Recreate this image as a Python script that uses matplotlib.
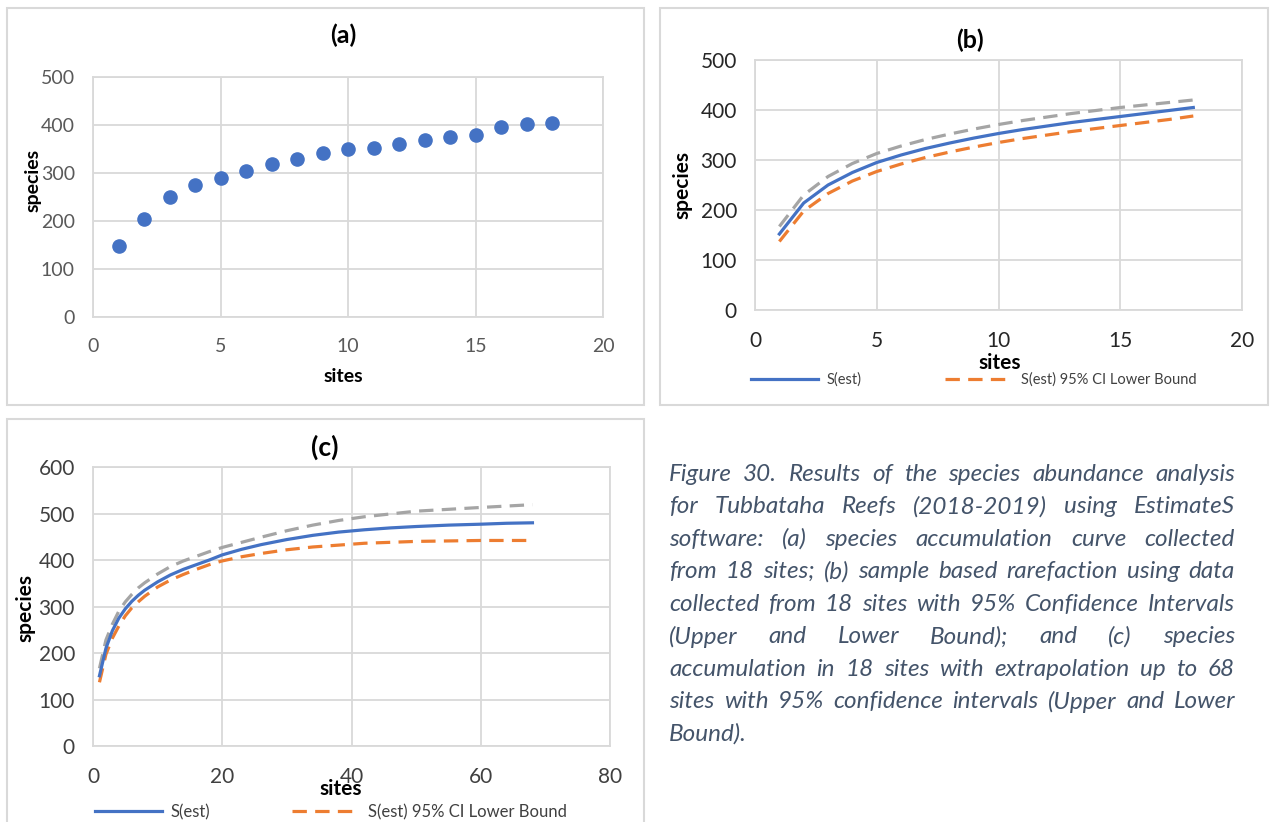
import numpy as np
import matplotlib.pyplot as plt
from matplotlib.patches import Rectangle

plt.rcParams['font.family'] = ['Lato', 'DejaVu Sans']

# ---- data ----
# (a) observed species accumulation
sites_a = list(range(1, 19))
species_a = [147, 204, 250, 274, 290, 304, 318, 330, 341, 350, 353, 360, 368, 375, 379, 395, 403, 405]

# (b) rarefaction, 18 sites
sites_b = list(range(1, 19))
sest_b = [152, 214, 250, 275, 295, 310, 323, 334, 344, 353, 361, 368, 375, 381, 387, 393, 399, 405]
upper_b = [167, 230, 267, 293, 313, 328, 341, 352, 362, 371, 379, 386, 393, 399, 405, 410, 415, 420]
lower_b = [137, 198, 233, 258, 277, 292, 305, 316, 326, 335, 343, 350, 357, 363, 369, 375, 381, 388]

# (c) extrapolation up to 68 sites
sites_c = [1, 2, 3, 4, 5, 6, 7, 8, 10, 12, 14, 16, 18, 20, 23, 26, 30, 34, 38, 42, 46, 50, 55, 60, 64, 68]
sest_c = [151, 210, 248, 275, 295, 311, 324, 335, 353, 368, 380, 390, 400, 411, 423, 433, 444, 453,
          460, 465, 469, 472, 475, 477, 479, 480]
upper_c = [167, 228, 262, 290, 310, 326, 340, 351, 370, 386, 398, 408, 418, 427, 438, 449, 463, 475,
           485, 493, 499, 505, 509, 513, 516, 519]
lower_c = [137, 197, 232, 258, 280, 297, 310, 322, 342, 357, 369, 380, 390, 398, 407, 414, 422, 428,
           432, 436, 438, 440, 441, 442, 442, 442]

caption = ["Figure 30. Results of the species abundance analysis",
           "for Tubbataha Reefs (2018-2019) using EstimateS",
           "software: (a) species accumulation curve collected",
           "from 18 sites; (b) sample based rarefaction using data",
           "collected from 18 sites with 95% Confidence Intervals",
           "(Upper and Lower Bound); and (c) species",
           "accumulation in 18 sites with extrapolation up to 68",
           "sites with 95% confidence intervals (Upper and Lower",
           "Bound)."]

blue = '#4472C4'
orange = '#ED7D31'
gray = '#A5A5A5'
grid = '#D9D9D9'
dash = (0, (4.5, 2.6))
W, H = 1277, 822

fig = plt.figure(figsize=(W / 100, H / 100), dpi=100)


def px_axes(x0, x1, y0, y1):
    # pixel box -> figure fraction axes
    return fig.add_axes([x0 / W, 1 - y1 / H, (x1 - x0) / W, (y1 - y0) / H])


def frame(x0, x1, y0, y1):
    fig.patches.append(Rectangle((x0 / W, 1 - y1 / H), (x1 - x0) / W, (y1 - y0) / H,
                                 transform=fig.transFigure, fill=False,
                                 edgecolor=grid, linewidth=1.5, zorder=0))


def style(ax, xmax, ymax, step_x, tick_color, size):
    ax.set_xlim(0, xmax)
    ax.set_ylim(0, ymax)
    ax.set_xticks(np.arange(0, xmax + 1, step_x))
    ax.set_yticks(np.arange(0, ymax + 1, 100))
    ax.grid(True, color=grid, linewidth=1.3)
    ax.set_axisbelow(True)
    for s in ax.spines.values():
        s.set_color(grid)
        s.set_linewidth(1.3)
    ax.tick_params(length=0, labelsize=size, colors=tick_color)
    ax.tick_params(axis='x', pad=15)
    ax.tick_params(axis='y', pad=13)


def labels(ax, size, xpos, ypos):
    ax.set_xlabel('sites', fontsize=size, fontweight='bold')
    ax.set_ylabel('species', fontsize=size, fontweight='bold')
    ax.xaxis.label.set_va('center')
    ax.yaxis.label.set_va('center')
    ax.xaxis.set_label_coords(*xpos)
    ax.yaxis.set_label_coords(*ypos)


frame(7, 644, 8, 405)
frame(660, 1268, 8, 405)
frame(7, 644, 419, 840)

# ---- (a) ----
ax1 = px_axes(93, 603, 77, 317)
ax1.scatter(sites_a, species_a, s=90, color=blue, zorder=3, clip_on=False)
style(ax1, 20, 500, 5, '#595959', 14)
labels(ax1, 14, (0.49, -0.246), (-0.118, 0.571))
fig.text(343 / W, 1 - 35 / H, '(a)', fontsize=18, fontweight='bold', ha='center', va='center')

# ---- (b) ----
ax2 = px_axes(755, 1242, 60, 310)
l1, = ax2.plot(sites_b, sest_b, color=blue, lw=2.3, label='S(est)', zorder=3)
l2, = ax2.plot(sites_b, lower_b, color=orange, lw=2.3, ls=dash,
               label='S(est) 95% CI Lower Bound', zorder=2)
ax2.plot(sites_b, upper_b, color=gray, lw=2.3, ls=dash, zorder=2)
style(ax2, 20, 500, 5, '#262626', 15)
labels(ax2, 15, (0.503, -0.212), (-0.150, 0.5))
fig.text(970 / W, 1 - 40 / H, '(b)', fontsize=18, fontweight='bold', ha='center', va='center')
fig.legend(handles=[l1, l2], loc='center left', bbox_to_anchor=(738 / W, 1 - 380 / H),
           ncol=2, frameon=False, fontsize=10.5, handlelength=4.6, columnspacing=5.7,
           handletextpad=0.6, labelcolor='#404040')

# ---- (c) ----
ax3 = px_axes(93, 610, 467, 746)
l3, = ax3.plot(sites_c, sest_c, color=blue, lw=2.3, label='S(est)', zorder=3)
l4, = ax3.plot(sites_c, lower_c, color=orange, lw=2.3, ls=dash,
               label='S(est) 95% CI Lower Bound', zorder=2)
ax3.plot(sites_c, upper_c, color=gray, lw=2.3, ls=dash, zorder=2)
style(ax3, 80, 600, 20, '#404040', 15)
labels(ax3, 15, (0.48, -0.153), (-0.1315, 0.495))
fig.text(325 / W, 1 - 447 / H, '(c)', fontsize=19, fontweight='bold', ha='center', va='center')
fig.legend(handles=[l3, l4], loc='center left', bbox_to_anchor=(80 / W, 1 - 812 / H),
           ncol=2, frameon=False, fontsize=12, handlelength=4.0, columnspacing=4.9,
           handletextpad=0.55, labelcolor='#404040')

# ---- caption, justified ----
renderer = fig.canvas.get_renderer()
cx0, cx1 = 669, 1235
for i, line in enumerate(caption):
    y = 1 - (474 + i * 32.5) / H
    words = line.split()
    kw = dict(fontsize=17.5, style='italic', color='#44546A', va='center', ha='left')
    if i == len(caption) - 1:
        fig.text(cx0 / W, y, line, **kw)
        continue
    texts = [fig.text(0, y, w, **kw) for w in words]
    widths = [t.get_window_extent(renderer).width for t in texts]
    gap = max((cx1 - cx0 - sum(widths)) / (len(words) - 1), 3)
    x = cx0
    for t, w in zip(texts, widths):
        t.set_x(x / W)
        x += w + gap

fig.savefig('out.png', dpi=100)
